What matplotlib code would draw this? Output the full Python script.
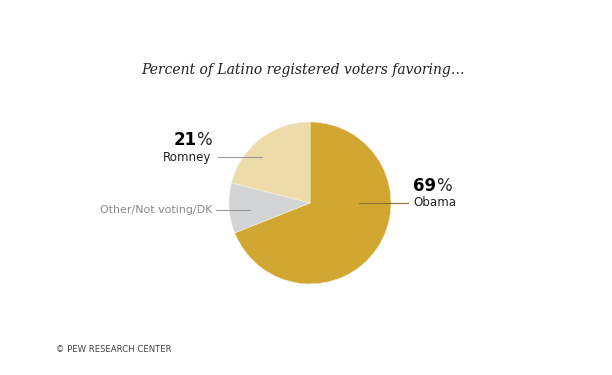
import matplotlib.pyplot as plt
from matplotlib.patches import Wedge

# data
labels = ['Obama', 'Other/Not voting/DK', 'Romney']
shares = [69, 10, 21]
colors = ['#D2A731', '#D3D4D6', '#EDDBAA']

W, H = 612, 375
fig = plt.figure(figsize=(W / 100, H / 100), dpi=100)
ax = fig.add_axes([0, 0, 1, 1])
ax.set_xlim(0, W)
ax.set_ylim(H, 0)
ax.axis('off')

cx, cy, r = 310, 203, 81

# pie drawn clockwise from 12 o'clock (y axis is flipped, so angles run the other way)
start = -90.0
for val, col in zip(shares, colors):
    span = val / sum(shares) * 360
    ax.add_patch(Wedge((cx, cy), r, start, start + span, facecolor=col,
                       edgecolor='#f4f0e6', linewidth=0.4))
    start += span

ax.text(303, 70, 'Percent of Latino registered voters favoring…', ha='center',
        va='center', fontsize=10, style='italic', family='DejaVu Serif',
        color='#222222')

# Romney
ax.text(211, 157, labels[2], ha='right', va='center', fontsize=8.6, color='#222222')
ax.plot([218, 262], [157, 157], color='#999999', lw=0.8)

# Other
ax.text(212, 210, labels[1], ha='right', va='center', fontsize=7.9, color='#888888')
ax.plot([216, 250], [210, 210], color='#999999', lw=0.8)

# Obama
ax.text(413, 203, labels[0], ha='left', va='center', fontsize=8.6, color='#222222')
ax.plot([359, 408], [203, 203], color='#8a7330', lw=0.8)

fig.canvas.draw()
rend = fig.canvas.get_renderer()


def pct_label(x, y, num, align):
    t1 = ax.text(x, y, num, ha='left', va='center', fontsize=12, fontweight='bold', color='black')
    w1 = t1.get_window_extent(rend).width
    t2 = ax.text(x, y, '%', ha='left', va='center', fontsize=12, color='#222222')
    w2 = t2.get_window_extent(rend).width
    x0 = x - (w1 + w2) if align == 'right' else x
    t1.set_x(x0)
    t2.set_x(x0 + w1)


pct_label(212, 140, str(shares[2]), 'right')
pct_label(413, 186, str(shares[0]), 'left')

ax.text(56, 349, '© PEW RESEARCH CENTER', ha='left', va='center', fontsize=6.1,
        color='#444444')

fig.savefig('out.png', dpi=100, facecolor='white')
